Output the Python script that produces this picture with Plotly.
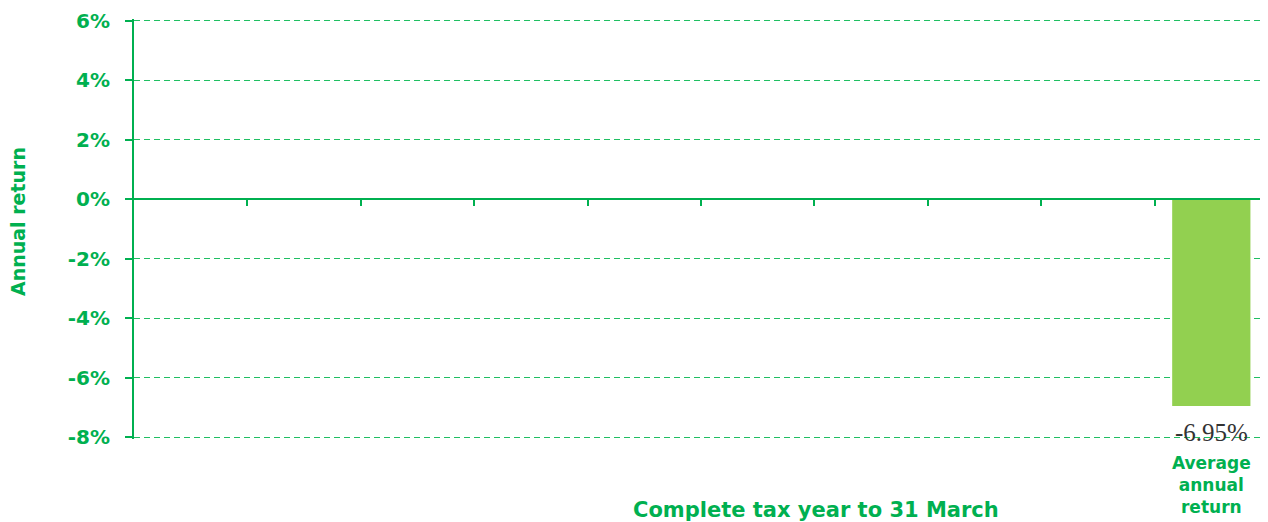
import plotly.graph_objects as go

# ---- data ----
categories = ["", "", "", "", "", "", "", "", "", "Average<br>annual<br>return"]
returns = [None, None, None, None, None, None, None, None, None, -6.95]
y_ticks = [-8, -6, -4, -2, 0, 2, 4, 6]
y_tick_labels = [f"{v}%" for v in y_ticks]
x_title = "Complete tax year to 31 March"
y_title = "Annual return"

GREEN = "#00B050"
GRID = "#1FBF62"
BAR = "#92D050"
FONT = "DejaVu Sans"

xs = list(range(len(categories)))
boundaries = [i + 0.5 for i in range(len(categories) - 1)]

# small padding so the end gridlines (6% and -8%) are not clipped
PAD = 0.06
y_lo, y_hi = min(y_ticks) - PAD, max(y_ticks) + PAD

# page body has an 8px margin, so the figure is offset by (8, 8)
PAGE_OFF = 8
PX_PER_UNIT = 416 / (max(y_ticks) - min(y_ticks))
pad_px = PAD * PX_PER_UNIT
PLOT_TOP = 21 - pad_px          # absolute page coords
PH = 416 + 2 * pad_px
PLOT_BOTTOM = PLOT_TOP + PH
PLOT_LEFT, PW = 134, 1134
W, H = 1268 - PAGE_OFF, 522 - PAGE_OFF
L = PLOT_LEFT - PAGE_OFF
T = PLOT_TOP - PAGE_OFF
B = H - T - PH


def px_x(ax):
    return (ax - PLOT_LEFT) / PW


def px_y(ay):
    return (PLOT_BOTTOM - ay) / PH


fig = go.Figure()
fig.add_trace(go.Bar(
    x=xs, y=returns, width=0.69,
    marker=dict(color=BAR, line=dict(width=0)),
    showlegend=False, hoverinfo="skip",
))
# empty helper trace so the zero-level category axis (x2) is rendered
fig.add_trace(go.Scatter(x=[None], y=[None], xaxis="x2", yaxis="y",
                         mode="lines", showlegend=False, hoverinfo="skip"))

annotations = [
    dict(text=f"{v:.2f}%", x=x, y=v, xref="x", yref="y",
         xanchor="center", yanchor="middle", yshift=-27, showarrow=False,
         font=dict(family="Liberation Serif", size=25, color="#333333"))
    for x, v in zip(xs, returns) if v is not None
]
annotations += [
    dict(text=x_title, xref="paper", yref="paper", x=px_x(816), y=px_y(510),
         xanchor="center", yanchor="middle", showarrow=False,
         font=dict(family=FONT, size=21, color=GREEN, weight="bold")),
    dict(text=y_title, xref="paper", yref="paper", x=px_x(18), y=px_y(222),
         xanchor="center", yanchor="middle", textangle=-90, showarrow=False,
         font=dict(family=FONT, size=19, color=GREEN, weight="bold")),
]

fig.update_layout(
    width=W, height=H,
    margin=dict(l=L, r=0, t=T, b=B, autoexpand=False),
    plot_bgcolor="white", paper_bgcolor="white",
    showlegend=False,
    xaxis=dict(
        range=[-0.5, len(categories) - 0.5], automargin=False,
        tickmode="array", tickvals=xs, ticktext=categories,
        showgrid=False, zeroline=False, showline=False, ticks="",
        tickfont=dict(family=FONT, size=17, color=GREEN, weight="bold"),
        ticklabelstandoff=12,
    ),
    xaxis2=dict(
        overlaying="x", anchor="free", position=(0 - y_lo) / (y_hi - y_lo), automargin=False,
        range=[-0.5, len(categories) - 0.5],
        tickmode="array", tickvals=boundaries,
        showticklabels=False, showgrid=False, zeroline=False,
        showline=True, linecolor=GREEN, linewidth=2,
        ticks="outside", ticklen=6, tickwidth=2, tickcolor=GREEN,
        layer="above traces",
    ),
    yaxis=dict(
        range=[y_lo, y_hi], automargin=False,
        tickmode="array", tickvals=y_ticks, ticktext=y_tick_labels,
        showgrid=True, gridcolor=GRID, gridwidth=1, griddash="6px,4px",
        zeroline=False,
        showline=True, linecolor=GREEN, linewidth=2,
        ticks="outside", ticklen=7, tickwidth=2, tickcolor=GREEN,
        tickfont=dict(family=FONT, size=20, color=GREEN, weight="bold"),
        ticklabelstandoff=11,
    ),
    annotations=annotations,
)

fig.write_html("out.html")
